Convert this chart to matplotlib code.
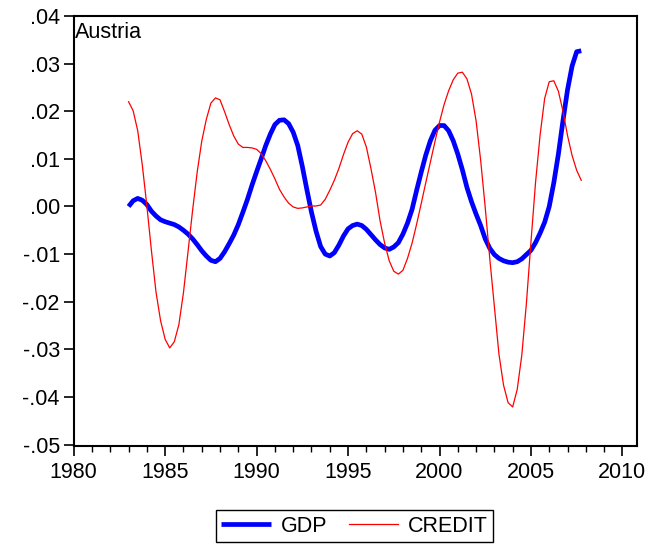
import numpy as np
import matplotlib
matplotlib.use("Agg")
import matplotlib.pyplot as plt
from matplotlib.ticker import MultipleLocator, FuncFormatter

plt.rcParams['font.family'] = ['Liberation Sans', 'DejaVu Sans']

# quarterly observations, 1983Q1 - 2007Q4
start_year = 1983.0
quarters_per_year = 4

gdp = [
    0.0000, 0.0012, 0.0017, 0.0013,   # 1983
    0.0004, -0.0010, -0.0020, -0.0028,  # 1984
    -0.0032, -0.0035, -0.0038, -0.0043,  # 1985
    -0.0050, -0.0058, -0.0068, -0.0080,  # 1986
    -0.0093, -0.0104, -0.0113, -0.0116,  # 1987
    -0.0109, -0.0095, -0.0078, -0.0060,  # 1988
    -0.0038, -0.0012, 0.0015, 0.0045,   # 1989
    0.0073, 0.0100, 0.0128, 0.0152,     # 1990
    0.0172, 0.0181, 0.0182, 0.0174,     # 1991
    0.0156, 0.0128, 0.0084, 0.0035,     # 1992
    -0.0012, -0.0052, -0.0084, -0.0100,  # 1993
    -0.0104, -0.0097, -0.0081, -0.0062,  # 1994
    -0.0047, -0.0040, -0.0037, -0.0040,  # 1995
    -0.0048, -0.0059, -0.0070, -0.0080,  # 1996
    -0.0087, -0.0090, -0.0085, -0.0076,  # 1997
    -0.0058, -0.0035, -0.0006, 0.0034,  # 1998
    0.0072, 0.0108, 0.0138, 0.0160,     # 1999
    0.0170, 0.0170, 0.0159, 0.0138,     # 2000
    0.0110, 0.0077, 0.0040, 0.0010,     # 2001
    -0.0016, -0.0040, -0.0068, -0.0088,  # 2002
    -0.0101, -0.0109, -0.0114, -0.0117,  # 2003
    -0.0118, -0.0116, -0.0110, -0.0101,  # 2004
    -0.0092, -0.0076, -0.0056, -0.0033,  # 2005
    0.0000, 0.0050, 0.0110, 0.0180,     # 2006
    0.0245, 0.0295, 0.0325, 0.0327,     # 2007
]

credit = [
    0.0220, 0.0201, 0.0159, 0.0087,     # 1983
    0.0001, -0.0093, -0.0180, -0.0240,  # 1984
    -0.0279, -0.0297, -0.0284, -0.0248,  # 1985
    -0.0181, -0.0095, -0.0008, 0.0072,  # 1986
    0.0137, 0.0183, 0.0217, 0.0228,     # 1987
    0.0224, 0.0199, 0.0172, 0.0148,     # 1988
    0.0131, 0.0124, 0.0124, 0.0123,     # 1989
    0.0120, 0.0111, 0.0096, 0.0078,     # 1990
    0.0058, 0.0036, 0.0020, 0.0007,     # 1991
    -0.0001, -0.0004, -0.0003, -0.0001,  # 1992
    0.0001, 0.0001, 0.0003, 0.0015,     # 1993
    0.0034, 0.0055, 0.0080, 0.0109,     # 1994
    0.0135, 0.0153, 0.0159, 0.0152,     # 1995
    0.0125, 0.0080, 0.0030, -0.0030,    # 1996
    -0.0077, -0.0114, -0.0136, -0.0142,  # 1997
    -0.0134, -0.0109, -0.0077, -0.0037,  # 1998
    0.0006, 0.0050, 0.0093, 0.0136,     # 1999
    0.0177, 0.0214, 0.0243, 0.0266,     # 2000
    0.0280, 0.0282, 0.0268, 0.0236,     # 2001
    0.0180, 0.0097, -0.0002, -0.0110,   # 2002
    -0.0210, -0.0310, -0.0375, -0.0412,  # 2003
    -0.0421, -0.0384, -0.0312, -0.0204,  # 2004
    -0.0075, 0.0050, 0.0150, 0.0227,    # 2005
    0.0262, 0.0264, 0.0242, 0.0200,     # 2006
    0.0149, 0.0107, 0.0076, 0.0055,     # 2007
]

t = start_year + np.arange(len(gdp)) / quarters_per_year

fig = plt.figure(figsize=(6.57, 5.48), dpi=100)
ax = fig.add_axes([0.1122, 0.187, 0.8574, 0.7838])

ax.plot(t, gdp, color='#0000ff', linewidth=3.4, label='GDP', solid_capstyle='butt')
ax.plot(t, credit, color='#ff0000', linewidth=0.9, label='CREDIT')

ax.set_xlim(1980, 2010.8)
ax.set_ylim(-0.0502, 0.04)
ax.xaxis.set_major_locator(MultipleLocator(5))
ax.xaxis.set_minor_locator(MultipleLocator(1))
ax.yaxis.set_major_locator(MultipleLocator(0.01))

def fmt_y(v, pos):
    v = round(v, 4)
    if v == 0:
        v = 0.0
    s = f"{v:.2f}"
    return s.replace("0.", ".", 1)

ax.yaxis.set_major_formatter(FuncFormatter(fmt_y))
ax.tick_params(axis='both', which='major', direction='out', length=7, width=1.2,
               labelsize=15.5, colors='black')
ax.tick_params(axis='y', which='major', pad=3)
ax.tick_params(axis='x', which='major', pad=5)
ax.tick_params(axis='x', which='minor', direction='out', length=4, width=1.0)
ax.tick_params(top=False, right=False)
for side in ax.spines.values():
    side.set_linewidth(1.5)

ax.text(0.002, 0.985, 'Austria', transform=ax.transAxes, fontsize=15.5,
        ha='left', va='top')

fig.legend(loc='center', bbox_to_anchor=(0.5396, 0.0401), ncol=2, fontsize=15.5,
           frameon=True, fancybox=False, edgecolor='black', framealpha=1,
           handlelength=2.3, handletextpad=0.45, columnspacing=1.0,
           borderpad=0.25, borderaxespad=0.0)

fig.savefig('out.png', dpi=100)
